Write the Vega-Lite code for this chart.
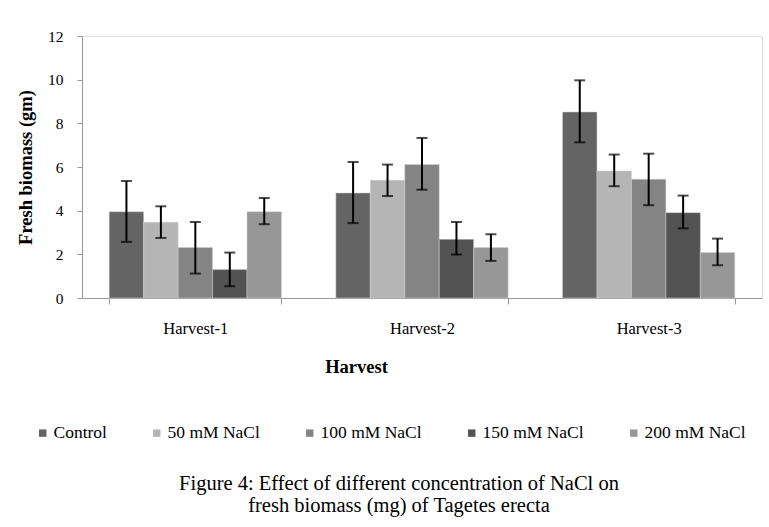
{
  "$schema": "https://vega.github.io/schema/vega-lite/v6.json",
  "width": 680,
  "height": 262,
  "autosize": {"type": "none"},
  "padding": {"left": 82, "top": 36, "right": 7, "bottom": 229},
  "background": "white",
  "title": {
    "text": ["Figure 4: Effect of different  concentration of NaCl on", "fresh biomass (mg) of Tagetes erecta"],
    "orient": "bottom",
    "anchor": "middle",
    "font": "Liberation Serif",
    "fontSize": 20.5,
    "fontWeight": "normal",
    "lineHeight": 22,
    "color": "black",
    "dx": -23,
    "offset": 32
  },
  "data": {
    "values": [
      {"harvest": "Harvest-1", "treatment": "Control", "value": 3.95, "lo": 2.57, "hi": 5.36},
      {"harvest": "Harvest-1", "treatment": "50 mM NaCl", "value": 3.47, "lo": 2.75, "hi": 4.2},
      {"harvest": "Harvest-1", "treatment": "100 mM NaCl", "value": 2.31, "lo": 1.12, "hi": 3.48},
      {"harvest": "Harvest-1", "treatment": "150 mM NaCl", "value": 1.3, "lo": 0.54, "hi": 2.08},
      {"harvest": "Harvest-1", "treatment": "200 mM NaCl", "value": 3.95, "lo": 3.38, "hi": 4.58},
      {"harvest": "Harvest-2", "treatment": "Control", "value": 4.81, "lo": 3.43, "hi": 6.23},
      {"harvest": "Harvest-2", "treatment": "50 mM NaCl", "value": 5.39, "lo": 4.67, "hi": 6.11},
      {"harvest": "Harvest-2", "treatment": "100 mM NaCl", "value": 6.11, "lo": 4.96, "hi": 7.33},
      {"harvest": "Harvest-2", "treatment": "150 mM NaCl", "value": 2.69, "lo": 1.99, "hi": 3.48},
      {"harvest": "Harvest-2", "treatment": "200 mM NaCl", "value": 2.31, "lo": 1.7, "hi": 2.92},
      {"harvest": "Harvest-3", "treatment": "Control", "value": 8.52, "lo": 7.13, "hi": 9.97},
      {"harvest": "Harvest-3", "treatment": "50 mM NaCl", "value": 5.82, "lo": 5.12, "hi": 6.57},
      {"harvest": "Harvest-3", "treatment": "100 mM NaCl", "value": 5.44, "lo": 4.25, "hi": 6.61},
      {"harvest": "Harvest-3", "treatment": "150 mM NaCl", "value": 3.91, "lo": 3.19, "hi": 4.69},
      {"harvest": "Harvest-3", "treatment": "200 mM NaCl", "value": 2.08, "lo": 1.5, "hi": 2.72}
    ]
  },
  "encoding": {
    "x": {
      "field": "harvest",
      "type": "nominal",
      "scale": {"paddingInner": 0.24, "paddingOuter": 0.12},
      "axis": {
        "title": "Harvest",
        "labelAngle": 0,
        "labelFont": "Liberation Serif",
        "labelFontSize": 16.5,
        "labelColor": "black",
        "labelPadding": 16,
        "tickBand": "extent",
        "tickSize": 6,
        "tickColor": "#999999",
        "domainColor": "#999999",
        "titleFont": "Liberation Serif",
        "titleFontSize": 18.5,
        "titleFontWeight": "bold",
        "titleColor": "black",
        "titleX": 274,
        "titleY": 68,
        "titleBaseline": "middle"
      }
    },
    "xOffset": {
      "field": "treatment",
      "type": "nominal",
      "sort": ["Control", "50 mM NaCl", "100 mM NaCl", "150 mM NaCl", "200 mM NaCl"],
      "scale": {"paddingInner": 0, "paddingOuter": 0}
    }
  },
  "layer": [
    {
      "mark": {"type": "bar", "stroke": "#d0d0d0", "strokeWidth": 0.5},
      "encoding": {
        "y": {
          "field": "value",
          "type": "quantitative",
          "scale": {"domain": [0, 12]},
          "axis": {
            "title": "Fresh biomass (gm)",
            "values": [0, 2, 4, 6, 8, 10, 12],
            "grid": false,
            "labelFont": "Liberation Serif",
            "labelFontSize": 15.5,
            "labelColor": "black",
            "labelPadding": 14,
            "tickSize": 5,
            "tickColor": "#999999",
            "domainColor": "#999999",
            "titleFont": "Liberation Serif",
            "titleFontSize": 18.5,
            "titleFontWeight": "bold",
            "titleColor": "black",
            "titlePadding": 12
          }
        },
        "color": {
          "field": "treatment",
          "type": "nominal",
          "scale": {
            "domain": ["Control", "50 mM NaCl", "100 mM NaCl", "150 mM NaCl", "200 mM NaCl"],
            "range": ["#646464", "#b5b5b5", "#848484", "#535353", "#979797"]
          },
          "legend": {
            "title": null,
            "orient": "none",
            "direction": "horizontal",
            "columns": 5,
            "legendX": -48,
            "legendY": 388,
            "symbolType": "square",
            "symbolSize": 55,
            "symbolStrokeWidth": 0,
            "labelFont": "Liberation Serif",
            "labelFontSize": 17.5,
            "labelColor": "black",
            "labelOffset": 2,
            "columnPadding": 41
          }
        }
      }
    },
    {
      "mark": {"type": "rule", "color": "black", "strokeWidth": 2},
      "encoding": {
        "y": {"field": "lo", "type": "quantitative"},
        "y2": {"field": "hi"}
      }
    },
    {
      "mark": {"type": "tick", "color": "black", "thickness": 2, "size": 11},
      "encoding": {
        "y": {"field": "lo", "type": "quantitative"}
      }
    },
    {
      "mark": {"type": "tick", "color": "black", "thickness": 2, "size": 11},
      "encoding": {
        "y": {"field": "hi", "type": "quantitative"}
      }
    }
  ]
}
